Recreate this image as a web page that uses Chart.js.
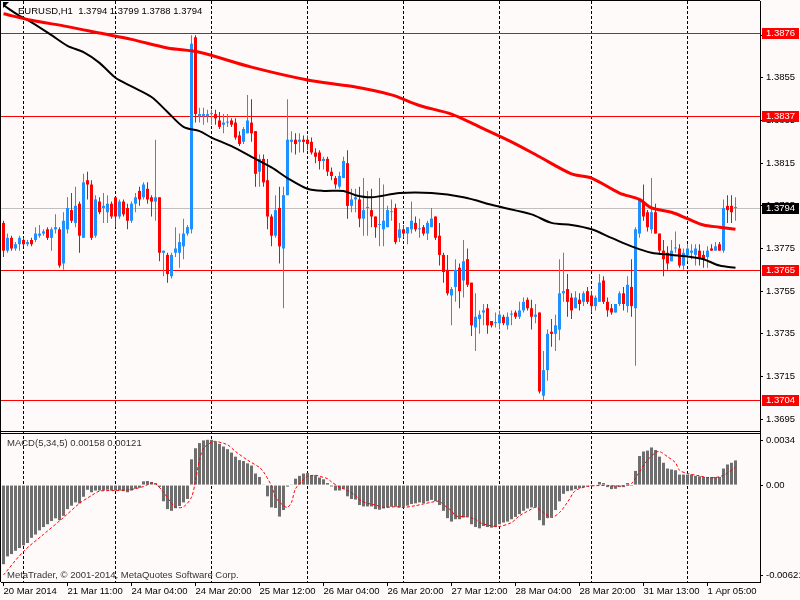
<!DOCTYPE html>
<html>
<head>
<meta charset="utf-8">
<title>EURUSD,H1</title>
<script src="https://cdn.jsdelivr.net/npm/chart.js@4.4.1/dist/chart.umd.min.js"></script>
<style>
    html, body { margin: 0; padding: 0; background: #FFFAFA; }
    #wrap { position: relative; width: 800px; height: 600px; overflow: hidden; background: #FFFAFA; }
    #wrap canvas { position: absolute; left: 0; top: 0; }
    .lbl { position: absolute; font: 9.5px "Liberation Sans", Arial, sans-serif; line-height: 11px; white-space: pre; }
    .shift { position: absolute; left: 3px; top: 2px; width: 0; height: 0;
             border-top: 6px solid #000; border-right: 6px solid transparent; }
</style>
</head>
<body>
<div id="wrap">
    <canvas id="chart" width="800" height="600"></canvas>
    <div class="shift"></div>
    <div class="lbl" style="left:18px; top:5px; color:#000;">EURUSD,H1  1.3794 1.3799 1.3788 1.3794</div>
    <div class="lbl" style="left:7px; top:437px; color:#333;">MACD(5,34,5) 0.00158 0.00121</div>
    <div class="lbl" style="left:7px; top:569px; color:#333;">MetaTrader, © 2001-2014, MetaQuotes Software Corp.</div>
</div>
<script>
        // H1 candles, bar 0 = 20 Mar 19:00
        const open = [
            1.3787, 1.3774, 1.3780, 1.3775, 1.3777, 1.3779, 1.3777, 1.3779, 1.3779, 1.3781,
            1.3782, 1.3784, 1.3780, 1.3784, 1.3784, 1.3768, 1.3784, 1.3793, 1.3787, 1.3796,
            1.3780, 1.3807, 1.3805, 1.3781, 1.3797, 1.3794, 1.3792, 1.3796, 1.3799, 1.3790,
            1.3797, 1.3794, 1.3788, 1.3796, 1.3802, 1.3799, 1.3803, 1.3799, 1.3797, 1.3799,
            1.3773, 1.3772, 1.3762, 1.3773, 1.3773, 1.3776, 1.3782, 1.3784, 1.3874, 1.3837,
            1.3837, 1.3837, 1.3838, 1.3838, 1.3835, 1.3833, 1.3834, 1.3835, 1.3834, 1.3828,
            1.3825, 1.3829, 1.3834, 1.3830, 1.3811, 1.3817, 1.3807, 1.3790, 1.3781, 1.3794,
            1.3775, 1.3800, 1.3825, 1.3826, 1.3825, 1.3826, 1.3826, 1.3825, 1.3820, 1.3820,
            1.3816, 1.3817, 1.3811, 1.3808, 1.3804, 1.3808, 1.3815, 1.3795, 1.3798, 1.3798,
            1.3789, 1.3794, 1.3793, 1.3790, 1.3786, 1.3784, 1.3785, 1.3792, 1.3794, 1.3780,
            1.3784, 1.3782, 1.3784, 1.3787, 1.3784, 1.3785, 1.3782, 1.3785, 1.3790, 1.3781,
            1.3772, 1.3765, 1.3753, 1.3757, 1.3766, 1.3760, 1.3770, 1.3759, 1.3738, 1.3742,
            1.3745, 1.3747, 1.3741, 1.3740, 1.3740, 1.3743, 1.3739, 1.3744, 1.3745, 1.3743,
            1.3746, 1.3751, 1.3747, 1.3743, 1.3745, 1.3706, 1.3718, 1.3736, 1.3735, 1.3737,
            1.3754, 1.3756, 1.3752, 1.3747, 1.3751, 1.3750, 1.3755, 1.3753, 1.3748, 1.3750,
            1.3760, 1.3750, 1.3747, 1.3745, 1.3749, 1.3754, 1.3748, 1.3757, 1.3747, 1.3782,
            1.3797, 1.3792, 1.3784, 1.3792, 1.3782, 1.3774, 1.3773, 1.3769, 1.3775, 1.3775,
            1.3767, 1.3772, 1.3773, 1.3772, 1.3774, 1.3772, 1.3771, 1.3775, 1.3774, 1.3777,
            1.3774, 1.3795, 1.3795, 1.3794
        ];
        const high = [
            1.3788, 1.3782, 1.3781, 1.3778, 1.3781, 1.3780, 1.3779, 1.3780, 1.3785, 1.3786,
            1.3784, 1.3785, 1.3785, 1.3791, 1.3785, 1.3792, 1.3799, 1.3801, 1.3804, 1.3797,
            1.3810, 1.3811, 1.3807, 1.3800, 1.3799, 1.3801, 1.3800, 1.3797, 1.3799, 1.3798,
            1.3798, 1.3796, 1.3797, 1.3801, 1.3804, 1.3806, 1.3806, 1.3800, 1.3826, 1.3799,
            1.3774, 1.3773, 1.3773, 1.3785, 1.3782, 1.3789, 1.3786, 1.3875, 1.3875, 1.3841,
            1.3841, 1.3840, 1.3840, 1.3840, 1.3839, 1.3838, 1.3838, 1.3836, 1.3836, 1.3830,
            1.3832, 1.3847, 1.3845, 1.3830, 1.3819, 1.3819, 1.3817, 1.3791, 1.3800, 1.3804,
            1.3804, 1.3845, 1.3830, 1.3829, 1.3829, 1.3828, 1.3828, 1.3827, 1.3822, 1.3821,
            1.3818, 1.3818, 1.3813, 1.3809, 1.3811, 1.3818, 1.3821, 1.3803, 1.3803, 1.3804,
            1.3808, 1.3802, 1.3803, 1.3790, 1.3808, 1.3805, 1.3795, 1.3798, 1.3796, 1.3787,
            1.3786, 1.3785, 1.3797, 1.3790, 1.3789, 1.3786, 1.3788, 1.3794, 1.3790, 1.3787,
            1.3773, 1.3772, 1.3757, 1.3770, 1.3768, 1.3779, 1.3775, 1.3759, 1.3754, 1.3746,
            1.3749, 1.3749, 1.3741, 1.3745, 1.3746, 1.3744, 1.3745, 1.3746, 1.3746, 1.3750,
            1.3752, 1.3752, 1.3751, 1.3749, 1.3745, 1.3727, 1.3737, 1.3742, 1.3744, 1.3770,
            1.3773, 1.3763, 1.3754, 1.3755, 1.3754, 1.3755, 1.3757, 1.3755, 1.3753, 1.3763,
            1.3762, 1.3752, 1.3749, 1.3749, 1.3755, 1.3757, 1.3762, 1.3770, 1.3785, 1.3798,
            1.3805, 1.3793, 1.3808, 1.3796, 1.3782, 1.3779, 1.3776, 1.3779, 1.3783, 1.3777,
            1.3775, 1.3777, 1.3777, 1.3777, 1.3777, 1.3774, 1.3776, 1.3777, 1.3778, 1.3778,
            1.3798, 1.3800, 1.3800, 1.3799
        ];
        const low = [
            1.3771, 1.3773, 1.3774, 1.3774, 1.3774, 1.3776, 1.3776, 1.3776, 1.3778, 1.3780,
            1.3781, 1.3779, 1.3774, 1.3782, 1.3766, 1.3765, 1.3782, 1.3787, 1.3785, 1.3773,
            1.3780, 1.3798, 1.3779, 1.3780, 1.3791, 1.3787, 1.3787, 1.3789, 1.3785, 1.3789,
            1.3790, 1.3784, 1.3787, 1.3792, 1.3795, 1.3798, 1.3796, 1.3790, 1.3788, 1.3769,
            1.3762, 1.3759, 1.3761, 1.3771, 1.3766, 1.3770, 1.3781, 1.3782, 1.3834, 1.3834,
            1.3833, 1.3834, 1.3833, 1.3833, 1.3831, 1.3829, 1.3832, 1.3832, 1.3826, 1.3823,
            1.3824, 1.3829, 1.3825, 1.3804, 1.3804, 1.3804, 1.3784, 1.3776, 1.3780, 1.3768,
            1.3747, 1.3800, 1.3820, 1.3819, 1.3820, 1.3820, 1.3821, 1.3819, 1.3815, 1.3812,
            1.3812, 1.3809, 1.3807, 1.3803, 1.3803, 1.3808, 1.3789, 1.3792, 1.3792, 1.3785,
            1.3781, 1.3781, 1.3785, 1.3780, 1.3776, 1.3776, 1.3785, 1.3788, 1.3777, 1.3778,
            1.3780, 1.3777, 1.3782, 1.3783, 1.3780, 1.3781, 1.3779, 1.3785, 1.3779, 1.3767,
            1.3759, 1.3753, 1.3739, 1.3750, 1.3747, 1.3752, 1.3757, 1.3734, 1.3727, 1.3735,
            1.3739, 1.3735, 1.3738, 1.3738, 1.3737, 1.3739, 1.3737, 1.3739, 1.3742, 1.3742,
            1.3745, 1.3746, 1.3737, 1.3740, 1.3707, 1.3704, 1.3713, 1.3729, 1.3727, 1.3732,
            1.3750, 1.3743, 1.3742, 1.3747, 1.3746, 1.3748, 1.3749, 1.3745, 1.3746, 1.3750,
            1.3749, 1.3743, 1.3744, 1.3745, 1.3748, 1.3746, 1.3745, 1.3743, 1.3720, 1.3780,
            1.3788, 1.3783, 1.3782, 1.3782, 1.3772, 1.3762, 1.3765, 1.3769, 1.3773, 1.3766,
            1.3765, 1.3769, 1.3770, 1.3767, 1.3767, 1.3766, 1.3766, 1.3774, 1.3774, 1.3774,
            1.3773, 1.3787, 1.3787, 1.3788
        ];
        const close = [
            1.3774, 1.3780, 1.3775, 1.3777, 1.3780, 1.3777, 1.3778, 1.3777, 1.3782, 1.3782,
            1.3783, 1.3780, 1.3784, 1.3785, 1.3767, 1.3788, 1.3794, 1.3788, 1.3795, 1.3781,
            1.3806, 1.3805, 1.3780, 1.3798, 1.3792, 1.3795, 1.3796, 1.3790, 1.3790, 1.3797,
            1.3791, 1.3788, 1.3796, 1.3799, 1.3798, 1.3805, 1.3798, 1.3797, 1.3799, 1.3773,
            1.3774, 1.3763, 1.3772, 1.3775, 1.3778, 1.3782, 1.3785, 1.3871, 1.3838, 1.3838,
            1.3838, 1.3838, 1.3838, 1.3836, 1.3832, 1.3834, 1.3834, 1.3833, 1.3827, 1.3824,
            1.3831, 1.3835, 1.3829, 1.3810, 1.3817, 1.3806, 1.3790, 1.3781, 1.3793, 1.3776,
            1.3800, 1.3826, 1.3826, 1.3824, 1.3826, 1.3825, 1.3824, 1.3820, 1.3818, 1.3816,
            1.3817, 1.3811, 1.3809, 1.3805, 1.3809, 1.3816, 1.3795, 1.3798, 1.3799, 1.3789,
            1.3793, 1.3794, 1.3790, 1.3785, 1.3786, 1.3788, 1.3793, 1.3792, 1.3778, 1.3784,
            1.3782, 1.3785, 1.3788, 1.3784, 1.3784, 1.3782, 1.3787, 1.3789, 1.3780, 1.3772,
            1.3764, 1.3754, 1.3756, 1.3765, 1.3755, 1.3769, 1.3758, 1.3739, 1.3743, 1.3744,
            1.3746, 1.3739, 1.3739, 1.3740, 1.3744, 1.3740, 1.3743, 1.3744, 1.3743, 1.3746,
            1.3750, 1.3747, 1.3743, 1.3744, 1.3708, 1.3718, 1.3735, 1.3735, 1.3739, 1.3754,
            1.3755, 1.3750, 1.3746, 1.3752, 1.3749, 1.3754, 1.3750, 1.3748, 1.3752, 1.3759,
            1.3750, 1.3746, 1.3745, 1.3749, 1.3754, 1.3749, 1.3758, 1.3748, 1.3784, 1.3798,
            1.3790, 1.3785, 1.3792, 1.3782, 1.3774, 1.3770, 1.3768, 1.3774, 1.3775, 1.3767,
            1.3773, 1.3775, 1.3774, 1.3775, 1.3770, 1.3770, 1.3774, 1.3774, 1.3776, 1.3774,
            1.3794, 1.3793, 1.3792, 1.3794
        ];

        // MACD(5,34,5) histogram, one value per bar
        const macdHist = [
            -0.00507, -0.00457, -0.00442, -0.00421, -0.00403, -0.00386, -0.00371, -0.00338, -0.00317, -0.00290,
            -0.00269, -0.00251, -0.00230, -0.00213, -0.00225, -0.00197, -0.00154, -0.00132, -0.00111, -0.00117,
            -0.00075, -0.00030, -0.00046, -0.00035, -0.00035, -0.00035, -0.00030, -0.00035, -0.00035, -0.00035,
            -0.00039, -0.00046, -0.00035, -0.00024, -0.00017, 0.00024, 0.00026, 0.00020, 0.00013, -0.00013,
            -0.00104, -0.00154, -0.00165, -0.00148, -0.00134, -0.00111, -0.00089, 0.00165, 0.00236, 0.00269,
            0.00286, 0.00290, 0.00290, 0.00280, 0.00264, 0.00247, 0.00230, 0.00208, 0.00182, 0.00160,
            0.00154, 0.00139, 0.00125, 0.00074, 0.00052, 0.00004, -0.00072, -0.00143, -0.00147, -0.00202,
            -0.00160, -0.00010, 0.00002, 0.00041, 0.00059, 0.00074, 0.00078, 0.00063, 0.00063, 0.00048,
            0.00037, 0.00013, -0.00009, -0.00035, -0.00035, -0.00024, -0.00072, -0.00089, -0.00093, -0.00128,
            -0.00137, -0.00137, -0.00137, -0.00154, -0.00158, -0.00150, -0.00143, -0.00139, -0.00139, -0.00143,
            -0.00139, -0.00132, -0.00121, -0.00117, -0.00111, -0.00117, -0.00104, -0.00095, -0.00104, -0.00128,
            -0.00165, -0.00212, -0.00234, -0.00219, -0.00219, -0.00208, -0.00204, -0.00251, -0.00269, -0.00277,
            -0.00262, -0.00269, -0.00273, -0.00269, -0.00251, -0.00240, -0.00234, -0.00219, -0.00204, -0.00186,
            -0.00165, -0.00150, -0.00143, -0.00143, -0.00225, -0.00258, -0.00212, -0.00204, -0.00160, -0.00104,
            -0.00056, -0.00039, -0.00035, -0.00026, -0.00020, -0.00013, -0.00009, -0.00006, -0.00004, 0.00020,
            0.00013, -0.00013, -0.00026, -0.00024, -0.00013, -0.00013, 0.00013, -0.00006, 0.00091, 0.00186,
            0.00215, 0.00221, 0.00241, 0.00225, 0.00182, 0.00143, 0.00106, 0.00100, 0.00095, 0.00067,
            0.00067, 0.00067, 0.00067, 0.00059, 0.00056, 0.00052, 0.00052, 0.00052, 0.00052, 0.00052,
            0.00106, 0.00132, 0.00143, 0.00158
        ];

        // signal line, read at these bars
        const signalIdx = [0, 5, 10, 15, 19, 22, 24, 28, 32, 35, 37, 38, 40, 42, 43, 45, 47, 48, 49, 50,
            52, 53, 56, 58, 61, 64, 65, 67, 68, 70, 71, 72, 73, 75, 76, 78, 79, 81, 82, 84,
            86, 88, 89, 91, 93, 95, 98, 100, 103, 105, 107, 109, 110, 112, 113, 116, 118, 119, 122, 124,
            127, 129, 132, 133, 135, 137, 139, 141, 143, 146, 148, 151, 153, 156, 157, 159, 161, 163, 164, 166,
            168, 169, 171, 174, 176, 178, 180, 182, 183];
        const signalVal = [-0.00576, -0.00425, -0.00316, -0.00208, -0.00117, -0.00067, -0.00039, -0.00035, -0.00028, -0.00009,
            0.00013, 0.00009, -0.00046, -0.00117, -0.00143, -0.00139, -0.00078, 0.00030, 0.00160, 0.00236,
            0.00275, 0.00280, 0.00258, 0.00215, 0.00160, 0.00113, 0.00085, -0.00005, -0.00078, -0.00132,
            -0.00143, -0.00110, -0.00024, 0.00035, 0.00056, 0.00063, 0.00056, 0.00041, 0.00020, -0.00013,
            -0.00035, -0.00067, -0.00095, -0.00117, -0.00128, -0.00143, -0.00139, -0.00143, -0.00132, -0.00121,
            -0.00110, -0.00104, -0.00126, -0.00165, -0.00197, -0.00204, -0.00219, -0.00240, -0.00262, -0.00265,
            -0.00240, -0.00197, -0.00154, -0.00143, -0.00176, -0.00208, -0.00176, -0.00110, -0.00035, -0.00009,
            -0.00004, -0.00002, -0.00006, -0.00002, 0.00009, 0.00085, 0.00160, 0.00208, 0.00215, 0.00182,
            0.00143, 0.00095, 0.00074, 0.00059, 0.00048, 0.00048, 0.00063, 0.00095, 0.00115];

        // moving averages, read at these bars
        const slowMaIdx = [0, 7, 16, 24, 32, 41, 49, 62, 76, 87, 97, 104, 112, 119, 127, 134, 142, 147, 154, 159,
            162, 167, 171, 175, 179, 183];
        const slowMaVal = [1.3885, 1.3882, 1.3879, 1.3876, 1.3873, 1.3869, 1.3867, 1.3860, 1.3854, 1.3851,
            1.3847, 1.3842, 1.3838, 1.3832, 1.3825, 1.3818, 1.3810, 1.3808, 1.3801, 1.3798,
            1.3794, 1.3792, 1.3789, 1.3786, 1.3785, 1.3784];
        const fastMaIdx = [0, 4, 7, 12, 16, 20, 24, 28, 32, 37, 41, 45, 49, 52, 57, 62, 67, 71, 76, 80,
            85, 88, 92, 99, 107, 115, 123, 132, 137, 142, 147, 152, 157, 162, 167, 172, 175, 179, 183];
        const fastMaVal = [1.3889, 1.3884, 1.3881, 1.3875, 1.3870, 1.3867, 1.3862, 1.3855, 1.3851, 1.3846,
            1.3839, 1.3832, 1.3830, 1.3827, 1.3823, 1.3818, 1.3813, 1.3808, 1.3803, 1.3802,
            1.3802, 1.3800, 1.3799, 1.3801, 1.3801, 1.3799, 1.3795, 1.3791, 1.3787, 1.3786,
            1.3784, 1.3780, 1.3776, 1.3773, 1.3772, 1.3771, 1.3770, 1.3767, 1.3766];

        // axes
        const timeTickIdx = [0, 16, 32, 48, 64, 80, 96, 112, 128, 144, 160, 176];
        const timeTickLabels = ['20 Mar 2014', '21 Mar 11:00', '24 Mar 04:00', '24 Mar 20:00', '25 Mar 12:00',
            '26 Mar 04:00', '26 Mar 20:00', '27 Mar 12:00', '28 Mar 04:00', '28 Mar 20:00', '31 Mar 13:00', '1 Apr 05:00'];
        const dayLineIdx = [5, 28, 52, 76, 100, 124, 147, 171];
        const priceTicks = [1.3695, 1.3715, 1.3735, 1.3755, 1.3775, 1.3795, 1.3815, 1.3835, 1.3855, 1.3875];
        const macdTicks = [0.0034, 0, -0.00621];
        const macdTickLabels = ['0.0034', '0.00', '-0.00621'];
        const redLevels = [1.3876, 1.3837, 1.3765, 1.3704];
        const bidLevel = 1.3794;

        const BULL = '#1E90FF';
        const BEAR = '#FF0000';
        const X_MIN = -0.625, X_MAX = 189.125;   // 4 px per bar
        const MACD_H = 150;

        function candleColor(i) {
            return close[i] >= open[i] ? BULL : BEAR;
        }

        // no label overflow padding, the windows are fixed like in MT4
        function noPad(s) {
            s.paddingTop = 0;
            s.paddingBottom = 0;
            s.paddingLeft = 0;
            s.paddingRight = 0;
        }

        // level lines, window frames and price tags
        const mtDecor = {
            id: 'mtDecor',
            beforeDatasetsDraw(chart) {
                const { ctx, chartArea: a, scales: { y } } = chart;
                ctx.save();
                ctx.lineWidth = 1;
                const hline = (v, color) => {
                    const py = Math.round(y.getPixelForValue(v)) + 0.5;
                    ctx.strokeStyle = color;
                    ctx.beginPath();
                    ctx.moveTo(0, py);
                    ctx.lineTo(a.right, py);
                    ctx.stroke();
                };
                hline(bidLevel, '#C0C0C0');
                redLevels.forEach(v => hline(v, '#FF0000'));
                ctx.restore();
            },
            afterDraw(chart) {
                const { ctx, chartArea: a, scales: { y, y2 } } = chart;
                ctx.save();
                ctx.strokeStyle = '#000';
                ctx.lineWidth = 1;
                ctx.beginPath();
                ctx.moveTo(0.5, 0); ctx.lineTo(0.5, a.bottom);
                ctx.moveTo(0, 0.5); ctx.lineTo(a.right, 0.5);
                ctx.moveTo(0, Math.round(y.bottom) - 0.5); ctx.lineTo(a.right, Math.round(y.bottom) - 0.5);
                ctx.moveTo(0, Math.round(y2.top) + 1.5); ctx.lineTo(a.right, Math.round(y2.top) + 1.5);
                ctx.stroke();

                ctx.font = '9.5px "Liberation Sans", Arial, sans-serif';
                ctx.textBaseline = 'middle';
                const tag = (v, bg) => {
                    const py = Math.round(y.getPixelForValue(v));
                    ctx.fillStyle = bg;
                    ctx.fillRect(a.right + 2, py - 5, 37, 11);
                    ctx.fillStyle = '#FFFFFF';
                    ctx.fillText(v.toFixed(4), a.right + 6, py + 0.5);
                };
                redLevels.forEach(v => tag(v, '#FF0000'));
                tag(bidLevel, '#000000');
                ctx.restore();
            }
        };

        let mtChart;

        function initChart() {
            Chart.defaults.font.family = '"Liberation Sans", Arial, sans-serif';
            Chart.defaults.font.size = 9.5;
            Chart.defaults.color = '#000';

            const idx = open.map((_, i) => i);
            const ctx = document.getElementById('chart').getContext('2d');

            mtChart = new Chart(ctx, {
                data: {
                    datasets: [
                        {
                            type: 'line',
                            label: 'MA slow',
                            data: slowMaIdx.map((x, k) => ({ x: x, y: slowMaVal[k] })),
                            borderColor: '#FF0000',
                            borderWidth: 3,
                            pointRadius: 0,
                            tension: 0.3,
                            xAxisID: 'x',
                            yAxisID: 'y'
                        },
                        {
                            type: 'line',
                            label: 'MA fast',
                            data: fastMaIdx.map((x, k) => ({ x: x, y: fastMaVal[k] })),
                            borderColor: '#000000',
                            borderWidth: 2,
                            pointRadius: 0,
                            tension: 0.3,
                            xAxisID: 'x',
                            yAxisID: 'y'
                        },
                        {
                            type: 'line',
                            label: 'Signal',
                            data: signalIdx.map((x, k) => ({ x: x, y: signalVal[k] })),
                            borderColor: '#FF0000',
                            borderWidth: 1,
                            borderDash: [3, 2],
                            pointRadius: 0,
                            tension: 0.3,
                            xAxisID: 'x',
                            yAxisID: 'y2'
                        },
                        {
                            type: 'bar',
                            label: 'Body',
                            data: idx.map(i => ({ x: i, y: [open[i], close[i]] })),
                            backgroundColor: c => candleColor(c.dataIndex),
                            barThickness: 3,
                            minBarLength: 1,
                            grouped: false,
                            inflateAmount: 0,
                            borderWidth: 0,
                            xAxisID: 'x',
                            yAxisID: 'y'
                        },
                        {
                            type: 'bar',
                            label: 'Wick',
                            data: idx.map(i => ({ x: i, y: [low[i], high[i]] })),
                            backgroundColor: c => candleColor(c.dataIndex),
                            barThickness: 1,
                            grouped: false,
                            inflateAmount: 0,
                            borderWidth: 0,
                            xAxisID: 'x',
                            yAxisID: 'y'
                        },
                        {
                            type: 'bar',
                            label: 'MACD',
                            data: idx.map(i => ({ x: i, y: macdHist[i] })),
                            backgroundColor: '#6E6E6E',
                            barThickness: 3,
                            grouped: false,
                            inflateAmount: 0,
                            borderWidth: 0,
                            xAxisID: 'x',
                            yAxisID: 'y2'
                        }
                    ]
                },
                options: {
                    responsive: false,
                    devicePixelRatio: 1,
                    animation: false,
                    events: [],
                    layout: { padding: { left: 1, top: 1, right: 0, bottom: 0 } },
                    plugins: { legend: { display: false }, tooltip: { enabled: false } },
                    scales: {
                        x: {
                            type: 'linear',
                            position: 'bottom',
                            offset: false,
                            min: X_MIN,
                            max: X_MAX,
                            afterBuildTicks: s => { s.ticks = timeTickIdx.map(v => ({ value: v })); },
                            afterFit: s => { s.height = 18; noPad(s); },
                            ticks: {
                                callback: (v, k) => timeTickLabels[k],
                                align: 'start',
                                maxRotation: 0,
                                autoSkip: false,
                                padding: 0
                            },
                            grid: { drawOnChartArea: false, drawTicks: true, tickLength: 4, tickColor: '#000', offset: false },
                            border: { display: true, color: '#000', width: 1 }
                        },
                        xDays: {
                            type: 'linear',
                            position: 'top',
                            offset: false,
                            min: X_MIN,
                            max: X_MAX,
                            afterBuildTicks: s => { s.ticks = dayLineIdx.map(v => ({ value: v })); },
                            afterFit: s => { s.height = 0; noPad(s); },
                            ticks: { display: false },
                            grid: { color: '#000', lineWidth: 1, drawTicks: false, offset: false },
                            border: { display: false, dash: [3, 2] }
                        },
                        y: {
                            type: 'linear',
                            position: 'right',
                            stack: 'win',
                            stackWeight: 431,
                            min: 1.3689,
                            max: 1.3891,
                            afterBuildTicks: s => { s.ticks = priceTicks.map(v => ({ value: v })); },
                            afterFit: s => { s.width = 40; noPad(s); },
                            ticks: { callback: v => v.toFixed(4), padding: 3 },
                            grid: { drawOnChartArea: false, drawTicks: true, tickLength: 3, tickColor: '#000' },
                            border: { display: true, color: '#000', width: 1 }
                        },
                        y2: {
                            type: 'linear',
                            position: 'right',
                            stack: 'win',
                            stackWeight: MACD_H,
                            min: -0.00621,
                            max: 0.0034,
                            // MT4 prints the window min/max labels a few px inside the window
                            afterBuildTicks: s => {
                                const d = (s.max - s.min) * 8 / MACD_H;
                                s.ticks = macdTicks.map(v => ({
                                    value: v === s.max ? v - d : (v === s.min ? v + d * 0.8 : v)
                                }));
                            },
                            afterFit: s => { s.width = 40; noPad(s); },
                            ticks: { callback: (v, k) => macdTickLabels[k], padding: 3 },
                            grid: { drawOnChartArea: false, drawTicks: true, tickLength: 3, tickColor: '#000' },
                            border: { display: true, color: '#000', width: 1 }
                        }
                    }
                },
                plugins: [mtDecor]
            });
        }

        window.onload = function () {
            initChart();
        };
</script>
</body>
</html>
